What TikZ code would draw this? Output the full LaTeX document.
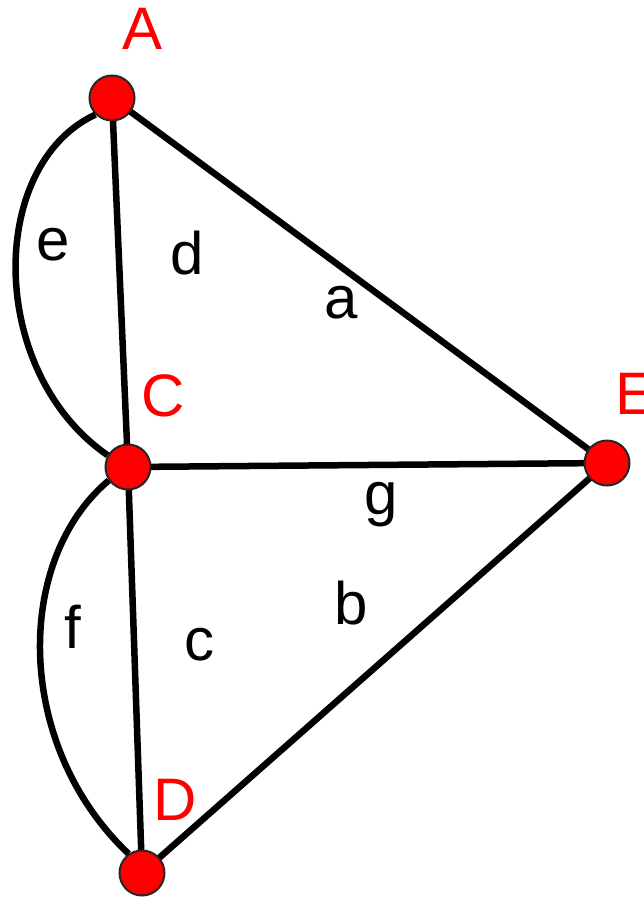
\documentclass[tikz,border=0pt]{standalone}
\usepackage{fontspec}
\setmainfont{Liberation Sans}
\begin{document}
\begin{tikzpicture}[x=1pt,y=-1pt,
  vtx/.style={circle,fill=red,draw=black!85,line width=2pt,minimum size=45pt,inner sep=0pt},
  edgeline/.style={line width=6.5pt,black},
  vlabel/.style={text=red,inner sep=0pt,font=\fontsize{60}{60}\selectfont},
  elabel/.style={text=black,inner sep=0pt,font=\fontsize{60}{60}\selectfont}]
\useasboundingbox (0,0) rectangle (644,898);
% vertices
\coordinate (Ap) at (112,98);
\coordinate (Cp) at (128,467);
\coordinate (Dp) at (142,873);
\coordinate (Ep) at (607,463);
% edges
\draw[edgeline] (Ap) -- (Cp);
\draw[edgeline] (Ap) -- (Ep);
\draw[edgeline] (Cp) -- (Ep);
\draw[edgeline] (Cp) -- (Dp);
\draw[edgeline] (Dp) -- (Ep);
\node[vtx] (A) at (Ap) {};
\node[vtx] (C) at (Cp) {};
\node[vtx] (D) at (Dp) {};
\node[vtx] (E) at (Ep) {};
\draw[edgeline] (A.225) .. controls (-13,165) and (-13,372) .. (C.150);
\draw[edgeline] (C.215) .. controls (14,560) and (14,745) .. (D.125);
% vertex labels
\node[vlabel] (lA) at (143,29) {A};
\node[vlabel] (lC) at (163,396) {C};
\node[vlabel,anchor=west] (lE) at (615,393.5) {E};
\node[vlabel] (lD) at (175,800) {D};
% edge labels
\node[elabel] (le) at (53,245) {e};
\node[elabel] (ld) at (187,253) {d};
\node[elabel] (la) at (341,303) {a};
\node[elabel] (lg) at (381,505) {g};
\node[elabel] (lb) at (351,603) {b};
\node[elabel] (lf) at (73,627) {f};
\node[elabel] (lc) at (199,645) {c};
\end{tikzpicture}
\end{document}
